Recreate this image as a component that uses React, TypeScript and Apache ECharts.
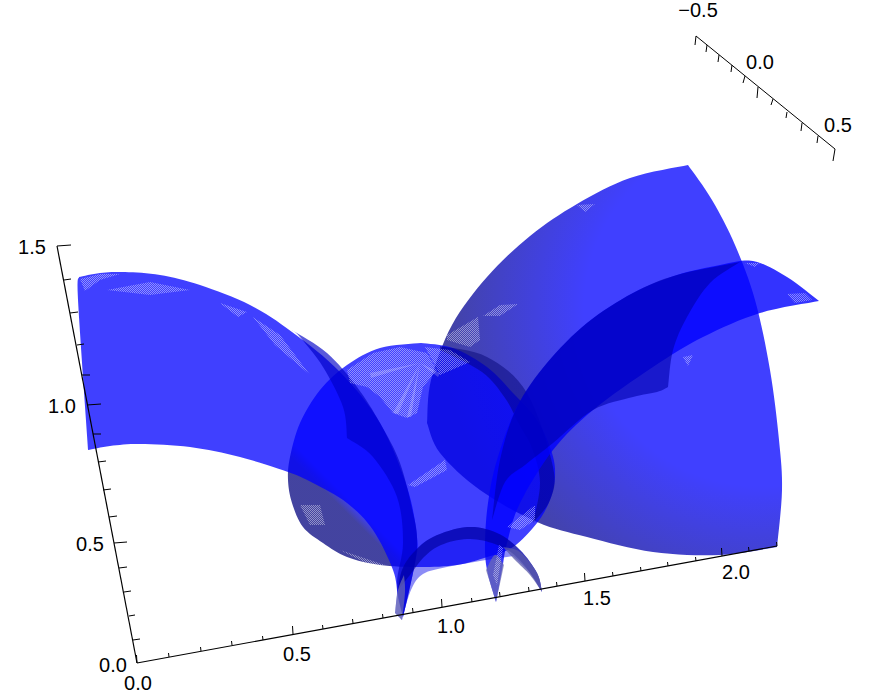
import React, { useEffect, useRef } from "react";
import * as echarts from "echarts";

type P = [number, number];

// ---- axis readings (picture coordinates of ticks; the picture is a projected 3D box)
const zTicks: P[] = [[137,663],[133,640],[129,616],[124,592],[119,568],[114,543],[109,517],[103,490],[98,462],[93,434],[87,405],[82,375],[77,345],[70,313],[64,280],[57,246]];
const zTickEnds: P[] = [[137,663],[140,639],[135,615],[131,591],[127,567],[127,542],[117,516],[111,489],[106,461],[101,434],[101,404],[90,375],[84,344],[78,312],[71,279],[71,245]];
const xTicks: P[] = [[137,663],[169,657],[201,651],[232,645],[263,640],[293,634],[323,629],[353,623],[383,618],[413,612],[442,607],[472,602],[500,596],[529,591],[557,586],[585,581],[613,576],[641,571],[668,566],[696,561],[722,556],[749,551],[777,546]];
const xMajor = [0, 5, 10, 15, 20];
const yTicks: P[] = [[696,36],[707,45],[719,55],[732,65],[745,76],[758,87],[773,99],[787,112],[802,123],[818,136],[835,149]];
const yTickEnds: P[] = [[695,45],[706,52],[718,62],[731,72],[743,83],[757,98],[771,105],[786,118],[801,131],[817,143],[833,161]];
const labels: { t: string; p: P }[] = [
  { t: "1.5", p: [32, 247] }, { t: "1.0", p: [62, 406] }, { t: "0.5", p: [90, 544] }, { t: "0.0", p: [113, 665] },
  { t: "0.0", p: [138, 683] }, { t: "0.5", p: [297, 654] }, { t: "1.0", p: [451, 626] }, { t: "1.5", p: [597, 598] }, { t: "2.0", p: [736, 572] },
  { t: "\u22120.5", p: [698, 10] }, { t: "0.0", p: [760, 62] }, { t: "0.5", p: [838, 125] },
];

// ---- surface outlines, each a list of smooth edges
const sphere: P[][] = [[[421,343],[380,348],[347,365],[320,390],[300,423],[290,457],[288,480],[292,503],[303,527],[323,543],[347,557],[380,565],[420,567],[457,565],[487,557],[513,547],[537,523],[550,500],[555,477],[552,453],[537,420],[513,393],[487,367],[453,348],[421,343]]];
const sphereCrescent: P[][] = [[[440,346],[487,357],[527,393],[553,467],[550,500],[533,523]],[[533,523],[540,483],[532,448],[519,424],[505,398],[482,372],[440,350]]];
const leftWing: P[][] = [
  [[79,277],[100,273],[125,272],[160,275],[200,285],[250,305],[292,332],[340,372],[380,423],[407,487],[417,537],[415,563],[403,617]],
  [[403,617],[398,597],[393,570],[373,530],[347,503],[313,483],[288,472],[240,457],[190,447],[140,444],[110,446],[88,450]],
  [[88,450],[78,300],[79,277]],
];
const leftFold: P[][] = [
  [[292,330],[327,353],[357,387],[380,423],[400,463],[413,513],[417,537],[415,563],[403,617]],
  [[403,617],[397,583],[403,543],[397,497],[373,457],[347,438]],
  [[347,438],[343,407],[323,367],[300,337],[292,330]],
];
const rightSector: P[][] = [
  [[688,165],[712,200],[735,245],[755,300],[770,370],[779,440],[782,490],[777,547]],
  [[777,547],[720,555],[653,552],[587,537],[537,522],[480,490],[440,453],[427,423]],
  [[427,423],[431,380],[452,325],[487,277],[530,236],[577,204],[630,178],[688,165]],
];
const rightBand: P[][] = [
  [[496,602],[487,570],[485,543],[488,503],[497,460],[517,407],[547,363],[587,323],[633,293],[677,275],[720,265],[753,261],[787,277],[819,301]],
  [[819,301],[760,313],[703,337],[653,367],[593,410],[553,450],[520,503],[507,543],[502,570],[496,602]],
];
const rightFold: P[][] = [
  [[740,262],[677,275],[633,293],[587,323],[547,363],[517,407],[500,460],[492,520]],
  [[492,520],[505,482],[525,465],[553,443],[593,410],[633,397],[657,392],[668,387]],
  [[668,387],[673,350],[687,317],[710,283],[740,262]],
];
const archBand: P[][] = [
  [[395,613],[400,577],[413,553],[433,537],[467,527],[497,533],[520,550],[537,573],[542,592]],
  [[542,592],[530,573],[513,556]],
  [[513,556],[480,561],[447,567],[423,574],[411,590],[402,620]],
  [[402,620],[395,613]],
];
const archTop: P[][] = [
  [[398,590],[402,570],[413,553],[433,537],[467,527],[497,533],[520,550],[537,573],[542,592]],
  [[542,592],[528,570],[512,553],[492,543],[467,539],[441,545],[424,557],[410,575],[398,590]],
];
const archRight: P[][] = [[[503,547],[520,552],[537,573],[542,592]],[[542,592],[530,575],[515,560],[503,547]]];
const tipMid: P[][] = [[[486,570],[496,602]],[[496,602],[504,565]],[[504,565],[495,555],[486,570]]];
const tipLeft: P[][] = [[[395,613],[398,590],[404,575]],[[404,575],[405,592],[402,620]],[[402,620],[395,613]]];

// ---- paler moire patches where the mesh shows through
const patches: P[][] = [
  [[347,370],[373,353],[400,347],[427,353],[437,370],[423,387],[417,413],[407,418],[393,413],[380,397],[367,387],[350,383]],
  [[425,347],[450,350],[470,362],[440,375],[432,360]],
  [[80,279],[100,274],[120,274],[100,280],[85,291]],
  [[107,290],[150,282],[190,290],[150,295]],
  [[220,303],[247,312],[238,317]],
  [[253,317],[280,335],[310,375],[275,345]],
  [[447,335],[478,317],[480,340],[470,347],[447,340]],
  [[483,316],[500,305],[518,304],[500,316]],
  [[577,205],[595,204],[585,212]],
  [[787,294],[805,293],[812,300],[795,303]],
  [[745,263],[760,263],[755,267]],
  [[683,357],[693,355],[688,366]],
  [[300,505],[320,505],[325,525],[310,525]],
  [[340,550],[385,565],[370,565]],
  [[507,527],[535,505],[535,520],[520,530]],
  [[408,485],[445,460],[447,470],[415,487]],
  [[493,575],[499,545],[503,548],[497,585]],
];
const rays: P[][] = [
  [[420,363],[393,413],[398,414]],
  [[420,363],[370,373],[371,378]],
  [[420,363],[407,417],[411,417]],
  [[420,363],[440,373],[438,377]],
];

// Smooth one edge for drawing (Catmull-Rom through the read points).
function smoothEdge(e: P[]): P[] {
  const out: P[] = [];
  for (let i = 0; i < e.length - 1; i++) {
    const p0 = e[Math.max(0, i - 1)], p1 = e[i], p2 = e[i + 1], p3 = e[Math.min(e.length - 1, i + 2)];
    for (let k = 0; k < 8; k++) {
      const t = k / 8, a = t * t, b = a * t;
      out.push([
        0.5 * (2 * p1[0] + (p2[0] - p0[0]) * t + (2 * p0[0] - 5 * p1[0] + 4 * p2[0] - p3[0]) * a + (3 * p1[0] - p0[0] - 3 * p2[0] + p3[0]) * b),
        0.5 * (2 * p1[1] + (p2[1] - p0[1]) * t + (2 * p0[1] - 5 * p1[1] + 4 * p2[1] - p3[1]) * a + (3 * p1[1] - p0[1] - 3 * p2[1] + p3[1]) * b),
      ]);
    }
  }
  out.push(e[e.length - 1]);
  return out;
}

const LIT = "rgba(0,0,255,0.75)";
const DARK = "rgba(5,5,128,0.75)";

function surface(edges: P[][], fill: any) {
  const pts = edges.flatMap(smoothEdge);
  return {
    type: "custom", coordinateSystem: "cartesian2d", silent: true, clip: false, data: pts,
    renderItem: (p: any, api: any) => p.dataIndex !== 0 ? null : ({
      type: "polygon", shape: { points: pts.map((q) => api.coord(q)) }, style: { fill },
    }),
  };
}

function straight(q: P[], fill: any) {
  return {
    type: "custom", coordinateSystem: "cartesian2d", silent: true, clip: false, data: q,
    renderItem: (p: any, api: any) => p.dataIndex !== 0 ? null : ({
      type: "polygon", shape: { points: q.map((c) => api.coord(c)) }, style: { fill },
    }),
  };
}

function polyline(pts: P[], width: number) {
  return {
    type: "line", data: pts, symbol: "none", silent: true, clip: false, z: 5,
    lineStyle: { color: "#000", width },
  };
}

function ticks(from: P[], to: P[]) {
  return {
    type: "custom", coordinateSystem: "cartesian2d", silent: true, clip: false, z: 5, data: from.map((f, i) => [f[0], f[1], to[i][0], to[i][1]]),
    renderItem: (_: any, api: any) => {
      const a = api.coord([api.value(0), api.value(1)]), b = api.coord([api.value(2), api.value(3)]);
      return { type: "line", shape: { x1: a[0], y1: a[1], x2: b[0], y2: b[1] }, style: { stroke: "#000", lineWidth: 1 } };
    },
  };
}

function hatchPattern() {
  const c = document.createElement("canvas");
  c.width = 4; c.height = 4;
  const g = c.getContext("2d")!;
  g.fillStyle = "rgba(255,255,255,0.42)";
  [[0,0],[1,1],[2,2],[3,3],[2,0],[3,1],[0,2],[1,3]].forEach(([x, y]) => g.fillRect(x, y, 1, 1));
  return { image: c, repeat: "repeat", imageWidth: 4, imageHeight: 4 };
}

const sphereFill = new echarts.graphic.LinearGradient(360, 510, 352, 518, [
  { offset: 0, color: LIT }, { offset: 1, color: DARK },
], true);
const sectorFill = new echarts.graphic.RadialGradient(760, 310, 320, [
  { offset: 0, color: LIT }, { offset: 0.55, color: LIT }, { offset: 1, color: DARK },
], true);

export default function App() {
  const ref = useRef<HTMLDivElement>(null);
  useEffect(() => {
    const chart = echarts.init(ref.current!, null, { renderer: "svg" });
    const hatch = hatchPattern();
    const xT = xTicks.map((t, i): P => {
      const h = xMajor.includes(i) ? 8 : 4;
      return [t[0] - 0.5, t[1] - h];
    });
    chart.setOption({
      animation: false,
      backgroundColor: "#fff",
      grid: { left: 0, right: 0, top: 0, bottom: 0 },
      xAxis: { type: "value", min: 0, max: 874, show: false },
      yAxis: { type: "value", min: 0, max: 700, inverse: true, show: false },
      series: [
        surface(rightSector, sectorFill),
        surface(sphere, sphereFill),
        surface(sphereCrescent, "rgba(0,0,110,0.45)"),
        surface(leftWing, LIT),
        surface(leftFold, "rgba(0,0,200,0.65)"),
        surface(rightBand, "rgba(0,0,255,0.8)"),
        surface(rightFold, "rgba(0,0,170,0.6)"),
        surface(archBand, "rgba(0,0,235,0.45)"),
        surface(archTop, "rgba(0,0,150,0.6)"),
        surface(archRight, "rgba(90,90,170,0.75)"),
        surface(tipMid, "rgba(110,110,175,0.7)"),
        surface(tipLeft, "rgba(110,110,175,0.7)"),
        ...patches.map((q) => straight(q, hatch)),
        ...rays.map((q) => straight(q, "rgba(255,255,255,0.2)")),
        polyline([zTicks[0], zTicks[zTicks.length - 1]], 1.2),
        polyline([xTicks[0], xTicks[xTicks.length - 1]], 1.2),
        polyline([yTicks[0], yTicks[yTicks.length - 1]], 1),
        ticks(zTicks, zTickEnds),
        ticks(xTicks, xT),
        ticks(yTicks, yTickEnds),
        {
          type: "custom", coordinateSystem: "cartesian2d", silent: true, clip: false, z: 6,
          data: labels.map((l) => [l.p[0], l.p[1], l.t]),
          dimensions: ["x", "y", "t"],
          renderItem: (p: any, api: any) => {
            const c = api.coord([api.value(0), api.value(1)]);
            return {
              type: "text", x: c[0], y: c[1],
              style: { text: labels[p.dataIndex].t, fill: "#000", font: "20px 'Liberation Sans', Arial, sans-serif", textAlign: "center", textVerticalAlign: "middle" },
            };
          },
        },
      ],
    });
    return () => chart.dispose();
  }, []);
  return <div ref={ref} style={{ width: 874, height: 700, position: "absolute", left: 0, top: 0 }} />;
}
